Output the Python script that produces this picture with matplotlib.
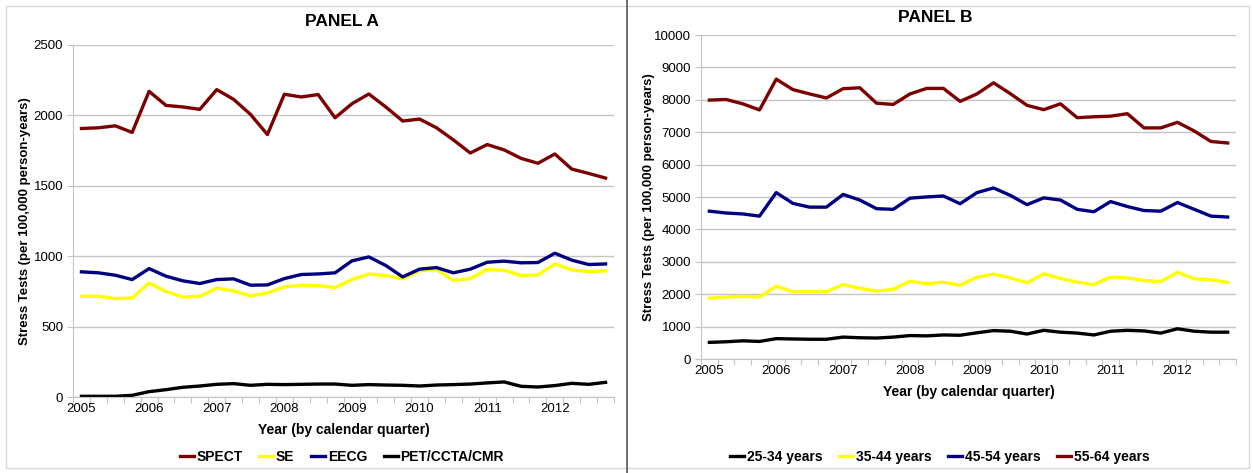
import numpy as np
import matplotlib
matplotlib.use('Agg')
import matplotlib.pyplot as plt
from matplotlib.lines import Line2D
from matplotlib.patches import Rectangle

plt.rcParams['font.family'] = ['Liberation Sans', 'DejaVu Sans']

years = ['2005', '2006', '2007', '2008', '2009', '2010', '2011', '2012']

# panel A: test modality, 2005Q1 .. 2012Q4
spect = [1907, 1912, 1926, 1879, 2171, 2071, 2060, 2043, 2183, 2114, 2007, 1864,
         2150, 2131, 2148, 1983, 2083, 2152, 2060, 1960, 1974, 1912, 1826, 1733,
         1793, 1755, 1695, 1660, 1726, 1619, 1588, 1555]
se = [716, 716, 699, 704, 810, 749, 709, 716, 773, 754, 718, 739,
      782, 794, 792, 777, 834, 874, 863, 839, 896, 908, 827, 841,
      905, 900, 863, 867, 945, 903, 891, 896]
eecg = [889, 882, 865, 834, 912, 858, 825, 806, 834, 839, 794, 796,
        841, 870, 874, 882, 967, 995, 934, 853, 908, 919, 882, 908,
        957, 965, 953, 955, 1021, 972, 941, 945]
pet = [5, 5, 5, 12, 38, 52, 69, 78, 90, 95, 83, 90,
       88, 90, 92, 92, 83, 88, 85, 83, 78, 85, 88, 92,
       100, 107, 76, 71, 81, 97, 90, 104]

# panel B: age group
age25 = [513, 532, 561, 542, 628, 618, 609, 609, 676, 656, 647, 676,
         723, 714, 742, 733, 809, 876, 857, 771, 885, 828, 800, 742,
         857, 885, 866, 800, 933, 857, 828, 828]
age35 = [1876, 1914, 1933, 1914, 2248, 2076, 2076, 2076, 2296, 2181, 2095, 2153,
         2401, 2324, 2372, 2277, 2525, 2620, 2506, 2353, 2630, 2487, 2372, 2296,
         2534, 2506, 2420, 2391, 2677, 2477, 2448, 2363]
age45 = [4563, 4506, 4477, 4410, 5135, 4802, 4687, 4687, 5078, 4906, 4639, 4620,
         4964, 5002, 5031, 4792, 5135, 5279, 5050, 4763, 4973, 4906, 4620, 4544,
         4859, 4706, 4582, 4563, 4830, 4620, 4410, 4382]
age55 = [7990, 8010, 7876, 7686, 8638, 8314, 8181, 8057, 8343, 8371, 7895, 7857,
         8181, 8352, 8352, 7952, 8181, 8524, 8190, 7829, 7695, 7876, 7448, 7476,
         7495, 7571, 7133, 7133, 7305, 7038, 6714, 6667]

MAROON, YELLOW, NAVY, BLACK = '#7b0000', '#ffff00', '#000080', '#000000'
GRID = '#c4c4c4'
W, H = 1253, 473


def styleAxes(ax, ymax, ystep):
    n = len(spect)
    ax.set_xlim(-0.5, n - 0.5)
    ax.set_ylim(0, ymax)
    ax.set_yticks(np.arange(0, ymax + 1, ystep))
    ax.set_xticks(np.arange(-0.5, n, 1.0))
    ax.set_xticklabels([])
    ax.set_xticks(np.arange(0, n, 4), labels=years, minor=True)
    ax.tick_params(axis='x', which='major', length=4, color=GRID, direction='out')
    ax.tick_params(axis='x', which='minor', length=0, labelsize=9.5, pad=4)
    ax.tick_params(axis='y', length=4, color=GRID, labelsize=9.5, pad=3)
    ax.grid(axis='y', color=GRID, linewidth=1)
    ax.set_axisbelow(True)
    for side in ['top', 'right']:
        ax.spines[side].set_visible(False)
    for side in ['left', 'bottom']:
        ax.spines[side].set_color(GRID)
    ax.set_xlabel('Year (by calendar quarter)', fontsize=10, fontweight='bold', labelpad=6)
    ax.set_ylabel('Stress Tests (per 100,000 person-years)', fontsize=9.5, fontweight='bold')


def addLegend(ax, xc):
    ax.legend(loc='center', bbox_to_anchor=(xc / W, (H - 457) / H),
              bbox_transform=figure.transFigure, ncol=4, frameon=False,
              handlelength=1.0, handletextpad=0.2, columnspacing=1.2,
              prop={'weight': 'bold', 'size': 10})


figure = plt.figure(figsize=(12.53, 4.73), dpi=100)
x = np.arange(len(spect))
lw = 2.4

axA = figure.add_axes([73 / W, (H - 397) / H, 541 / W, 352 / H])
for vals, col, lab in [(spect, MAROON, 'SPECT'), (se, YELLOW, 'SE'),
                       (eecg, NAVY, 'EECG'), (pet, BLACK, 'PET/CCTA/CMR')]:
    axA.plot(x, vals, color=col, lw=lw, label=lab)
styleAxes(axA, 2500, 500)
axA.yaxis.set_label_coords(-0.078, 0.5)
addLegend(axA, 342)

axB = figure.add_axes([701 / W, (H - 359) / H, 535 / W, 324 / H])
for vals, col, lab in [(age25, BLACK, '25-34 years'), (age35, YELLOW, '35-44 years'),
                       (age45, NAVY, '45-54 years'), (age55, MAROON, '55-64 years')]:
    axB.plot(x, vals, color=col, lw=lw, label=lab)
styleAxes(axB, 10000, 1000)
axB.yaxis.set_label_coords(-0.086, 0.5)
addLegend(axB, 940)

figure.text(342 / W, 1 - 22 / H, 'PANEL A', ha='center', va='center',
            fontsize=12.5, fontweight='bold')
figure.text(935 / W, 1 - 18 / H, 'PANEL B', ha='center', va='center',
            fontsize=12.5, fontweight='bold')

# outer frame and panel divider
figure.add_artist(Rectangle((6 / W, 5 / H), 1243 / W, 462 / H, transform=figure.transFigure,
                            fill=False, edgecolor='#d9d9d9', lw=1))
figure.add_artist(Line2D([627 / W, 627 / W], [0, 1], transform=figure.transFigure,
                         color='#555555', lw=1.2))

figure.savefig('out.png', dpi=100)
